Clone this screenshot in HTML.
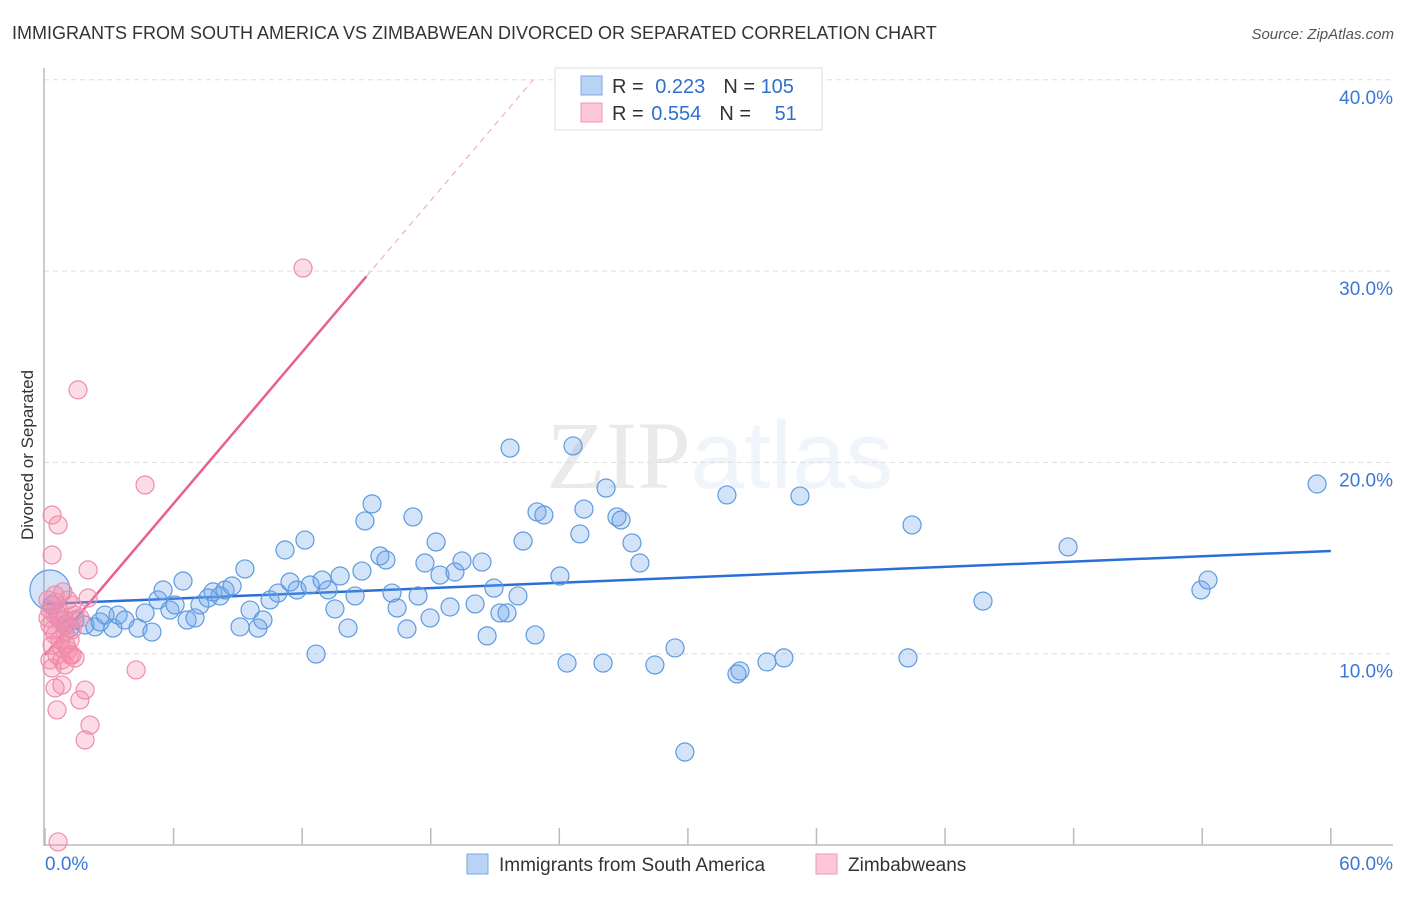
<!DOCTYPE html>
<html><head><meta charset="utf-8">
<style>
body{margin:0;background:#fff;font-family:"Liberation Sans",sans-serif;}
svg text{font-family:"Liberation Sans",sans-serif;}
</style></head>
<body>
<svg id="chart" width="1406" height="892" xmlns="http://www.w3.org/2000/svg">
<text x="12" y="39" font-size="18" fill="#333">IMMIGRANTS FROM SOUTH AMERICA VS ZIMBABWEAN DIVORCED OR SEPARATED CORRELATION CHART</text>
<text x="1394" y="39" font-size="15" fill="#555" text-anchor="end" font-style="italic">Source: ZipAtlas.com</text>
<text x="720" y="488" font-size="96" text-anchor="middle" fill="#000" opacity="0.08"><tspan font-family="Liberation Serif">ZIP</tspan><tspan fill="#4a8ee0" opacity="1.6" font-family="Liberation Sans">atlas</tspan></text>
<text transform="translate(33,455) rotate(-90)" font-size="17" fill="#333" text-anchor="middle">Divorced or Separated</text>
<g id="grid"></g><g id="axes"></g><g id="trend"></g><g id="pts"></g>
<g>
<rect x="555" y="68" width="267" height="62" fill="#fff" stroke="#ddd"/>
<rect x="581" y="76" width="21" height="19" fill="#b9d3f5" stroke="#7aa8e6"/>
<rect x="581" y="103" width="21" height="19" fill="#fcc8d8" stroke="#f097b4"/>
<text x="612" y="93" font-size="20" fill="#333">R = <tspan fill="#2f6fd0" dx="6">0.223</tspan><tspan dx="18" fill="#333">N = </tspan><tspan fill="#2f6fd0">105</tspan></text>
<text x="612" y="120" font-size="20" fill="#333">R = <tspan fill="#2f6fd0" dx="2">0.554</tspan><tspan dx="18" fill="#333">N = </tspan><tspan fill="#2f6fd0" dx="18">51</tspan></text>
</g>
<g>
<rect x="467" y="854" width="21" height="20" fill="#b9d3f5" stroke="#7aa8e6"/>
<text x="499" y="871" font-size="19" fill="#333">Immigrants from South America</text>
<rect x="816" y="854" width="21" height="20" fill="#fcc8d8" stroke="#f097b4"/>
<text x="848" y="871" font-size="19" fill="#333">Zimbabweans</text>
</g>
</svg>
<script>
const blueX=[0.23,0.33,0.61,0.93,1.17,1.4,1.87,2.33,2.57,2.8,3.17,3.41,3.73,4.34,4.67,4.99,5.27,5.51,5.83,6.07,6.44,6.63,7.0,7.23,7.61,7.84,8.17,8.4,8.73,9.1,9.33,9.57,9.94,10.17,10.5,10.87,11.2,11.43,11.76,12.13,12.37,12.65,12.93,13.21,13.53,13.77,14.14,14.47,14.79,14.93,15.26,15.63,15.91,16.19,16.43,16.89,17.17,17.41,17.73,17.97,18.25,18.43,18.9,19.13,19.46,20.07,20.39,20.63,20.95,21.23,21.56,21.7,22.07,22.31,22.87,22.96,23.28,24.03,24.36,24.64,24.96,25.15,26.04,26.18,26.69,26.88,27.39,27.76,28.46,29.4,29.86,31.82,32.29,32.43,33.69,34.48,35.23,40.27,40.46,43.77,47.74,53.94,54.27,59.36];
const blueY=[13.33,12.55,12.02,11.5,11.34,11.76,11.5,11.4,11.66,12.02,11.34,12.02,11.76,11.34,12.13,11.13,12.81,13.33,12.28,12.55,13.8,11.76,11.87,12.55,12.91,13.23,13.02,13.33,13.54,11.4,14.43,12.28,11.34,11.76,12.81,13.17,15.42,13.75,13.33,15.94,13.59,9.98,13.85,13.33,12.34,14.06,11.34,13.02,14.32,16.94,17.83,15.11,14.9,13.17,12.39,11.29,17.15,13.02,14.74,11.87,15.84,14.11,12.44,14.27,14.85,12.6,14.79,10.93,13.43,12.13,12.13,20.75,13.02,15.89,10.98,17.41,17.25,14.06,9.51,20.86,16.26,17.56,9.51,18.66,17.15,16.99,15.79,14.74,9.41,10.3,4.86,18.3,8.94,9.1,9.57,9.78,18.24,9.78,16.73,12.75,15.58,13.33,13.85,18.87];
const pinkX=[0.33,0.33,0.61,0.14,0.23,0.47,0.23,0.47,0.7,0.93,0.33,0.56,0.79,0.33,0.47,0.56,0.84,1.07,1.26,0.93,1.4,1.63,1.07,1.26,1.4,0.93,1.17,2.01,2.01,1.87,1.63,2.1,1.87,1.54,4.67,4.25,12.04,0.61,0.79,1.03,0.47,0.14,0.7,1.17,0.79,0.98,1.26,0.23,0.47,0.7,0.37];
const pinkY=[17.25,15.16,16.73,12.81,12.28,12.02,11.5,10.98,10.72,11.13,10.45,9.93,9.67,9.25,8.21,7.06,13.23,12.81,12.55,11.76,12.02,11.87,10.19,9.93,9.78,9.41,9.93,14.38,12.91,8.1,7.58,6.27,5.49,23.79,18.82,9.15,30.16,0.16,8.36,11.5,12.7,11.87,12.18,10.72,10.3,10.45,11.24,9.67,13.07,11.76,11.24];
const blueTrend=[12.6,15.37];
const pinkTrend=[9.93,1.32];
const yTicks=[10,20,30,40];
const yTickLabels=["10.0%","20.0%","30.0%","40.0%"];
const xTicks=[0,6,12,18,24,30,36,42,48,54,60];
const NS="http://www.w3.org/2000/svg";
const sx=v=>45+v*21.43, sy=v=>845-v*19.13;
function mk(parent,tag,attrs){const e=document.createElementNS(NS,tag);for(const k in attrs)e.setAttribute(k,attrs[k]);document.getElementById(parent).appendChild(e);return e;}
yTicks.forEach((t,i)=>{
 const g=mk('grid','line',{x1:44,x2:1393,y1:sy(t),y2:sy(t),stroke:'#ddd','stroke-dasharray':'5,4'});
 
 
 const l=mk('grid','text',{x:1393,y:sy(t)+24,'font-size':19,fill:'#3a78d8','text-anchor':'end'});
 l.textContent=yTickLabels[i];
 
 
});
let ax=mk('axes','line',{x1:44,x2:44,y1:68,y2:846,stroke:'#bbb','stroke-width':1.5});


ax=mk('axes','line',{x1:44,x2:1393,y1:845,y2:845,stroke:'#bbb','stroke-width':1.5});


xTicks.forEach(t=>{const tk=mk('axes','line',{x1:sx(t),x2:sx(t),y1:828,y2:845,stroke:'#bbb','stroke-width':1.5});
 
 });
let xl=mk('axes','text',{x:45,y:870,'font-size':19,fill:'#3a78d8'});xl.textContent='0.0%';


xl=mk('axes','text',{x:1393,y:870,'font-size':19,fill:'#3a78d8','text-anchor':'end'});xl.textContent='60.0%';


function dot(x,y,c,r){const e=mk('pts','circle',{cx:sx(x),cy:sy(y),r:r||9,fill:c[0],stroke:c[1],'stroke-width':1.2});return e;}
blueX.forEach((x,i)=>{const e=dot(x,blueY[i],['rgba(110,165,235,0.3)','#5e9ae0'],i===0?20:9);
 
 });
pinkX.forEach((x,i)=>{const e=dot(x,pinkY[i],['rgba(245,140,170,0.3)','#f08cad']);
 
 });
let tl=mk('trend','line',{x1:sx(0),y1:sy(blueTrend[0]),x2:sx(60),y2:sy(blueTrend[1]),stroke:'#2a6fd6','stroke-width':2.5});


const pxEnd=15, pxDash=(40-pinkTrend[0])/pinkTrend[1];
tl=mk('trend','line',{x1:sx(0),y1:sy(pinkTrend[0]),x2:sx(pxEnd),y2:sy(pinkTrend[0]+pinkTrend[1]*pxEnd),stroke:'#e8608e','stroke-width':2.5});


tl=mk('trend','line',{x1:sx(pxEnd),y1:sy(pinkTrend[0]+pinkTrend[1]*pxEnd),x2:sx(pxDash),y2:sy(40),stroke:'#f0a0b8','stroke-width':1,'stroke-dasharray':'6,5'});


</script>
</body></html>
